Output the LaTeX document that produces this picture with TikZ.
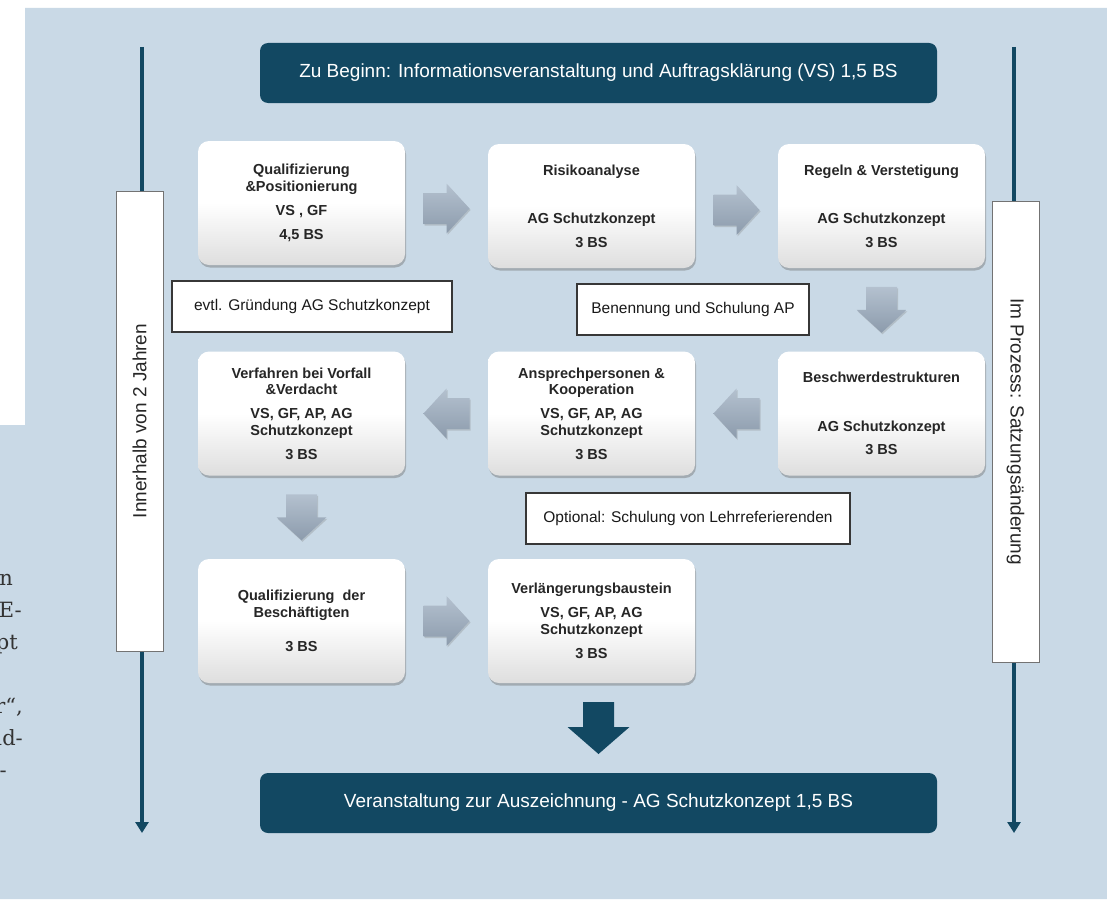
\documentclass[tikz,border=0pt]{standalone}
\usepackage{fontspec}
\setmainfont{Liberation Sans}
\newfontfamily\seitenfont{DejaVu Serif}
\usetikzlibrary{shadows,calc,arrows.meta}

\definecolor{hgblau}{RGB}{201,217,230}
\definecolor{petrol}{RGB}{18,72,98}
\definecolor{pfeilhell}{RGB}{180,193,207}
\definecolor{pfeildunkel}{RGB}{140,155,172}
\definecolor{schrift}{RGB}{38,38,38}
\definecolor{rahmen}{RGB}{55,55,55}

\tikzset{
  modul/.style={rounded corners=11pt, minimum width=207pt, minimum height=124pt,
    inner sep=0pt, align=center, text=schrift,
    top color=white, bottom color=black!13, middle color=white,
    font=\bfseries\fontsize{14.5}{16.5}\selectfont,
    drop shadow={shadow xshift=1pt, shadow yshift=-2.5pt, opacity=.45, fill=black!55}},
  hinweis/.style={draw=rahmen, line width=1.3pt, fill=white, minimum height=51pt,
    inner xsep=0pt, font=\fontsize{15.5}{18}\selectfont, text=black!90},
  balken/.style={rounded corners=8pt, fill=petrol, text=white, minimum width=677pt,
    minimum height=60pt, font=\fontsize{19}{22}\selectfont},
  zeitbox/.style={draw=black!55, line width=.8pt, fill=white, minimum height=47pt,
    font=\fontsize{19}{22}\selectfont, text=black!85},
  zeitachse/.style={draw=petrol, line width=3.2pt, -{Triangle[width=13pt,length=11pt]}},
  pics/blockpfeil/.style={code={
    \path[top color=pfeilhell, bottom color=pfeildunkel,
      drop shadow={shadow xshift=1pt, shadow yshift=-1.5pt, opacity=.3}]
      (-23,-15.5) -- (0,-15.5) -- (0,-25) -- (23,0) -- (0,25) -- (0,15.5) -- (-23,15.5) -- cycle;}},
  pics/grosspfeil/.style={code={
    \fill[petrol] (-26,-15.5) -- (-1,-15.5) -- (-1,-31) -- (26,0) -- (-1,31) -- (-1,15.5) -- (-26,15.5) -- cycle;}}
}

\begin{document}
\begin{tikzpicture}[x=1pt,y=-1pt]
  \useasboundingbox (0,0) rectangle (1107,899);
  % Hintergrund
  \fill[white] (0,0) rectangle (1107,899);
  \fill[hgblau] (25,8) -- (1107,8) -- (1107,899) -- (0,899) -- (0,425) -- (25,425) -- cycle;
  % Textreste der Seite links
  \begin{scope}[font=\seitenfont\fontsize{21}{32}\selectfont, text=black!80]
    \node[anchor=base east, inner sep=0pt] (rest1) at (13,585) {n};
    \node[anchor=base east, inner sep=0pt] (rest2) at (22,617) {E-};
    \node[anchor=base east, inner sep=0pt] (rest3) at (18,649) {pt};
    \node[anchor=base east, inner sep=0pt] (rest4) at (23,713) {r“,};
    \node[anchor=base east, inner sep=0pt] (rest5) at (23,745) {ad-};
    \node[anchor=base east, inner sep=0pt] (rest6) at (7,777) {-};
  \end{scope}

  % Zeitachsen
  \coordinate (links oben) at (142,47);
  \coordinate (links unten) at (142,833);
  \coordinate (rechts oben) at (1014,47);
  \coordinate (rechts unten) at (1014,833);
  \draw[zeitachse] (links oben) -- (links unten);
  \draw[zeitachse] (rechts oben) -- (rechts unten);
  \node[zeitbox, minimum width=460pt, rotate=90] (innerhalb) at (139.5,421) {Innerhalb von 2 Jahren};
  \node[zeitbox, minimum width=461pt, rotate=-90] (prozess) at (1015.5,431.5) {Im Prozess: Satzungsänderung};

  % Anfang und Ende
  \node[balken] (beginn) at (598.5,73) {Zu Beginn: Informationsveranstaltung und Auftragsklärung (VS) 1,5 BS};
  \node[balken] (auszeichnung) at (598.5,803) {Veranstaltung zur Auszeichnung - AG Schutzkonzept 1,5 BS};

  % Bausteine
  \node[modul] (qualpos) at (301.5,203) {Qualifizierung\\\&Positionierung\\[7.5pt]VS , GF\\[7.5pt]4,5 BS};
  \node[modul] (risiko) at (591.5,206) {Risikoanalyse\\[32pt]AG Schutzkonzept\\[7pt]3 BS};
  \node[modul] (regeln) at (881.5,206) {Regeln \& Verstetigung\\[32pt]AG Schutzkonzept\\[7pt]3 BS};
  \node[modul] (beschwerde) at (881.5,413.5) {Beschwerdestrukturen\\[32pt]AG Schutzkonzept\\[7pt]3 BS};
  \node[modul] (ansprech) at (591.5,413.5) {Ansprechpersonen \&\\Kooperation\\[7.5pt]VS, GF, AP, AG\\Schutzkonzept\\[7.5pt]3 BS};
  \node[modul] (verfahren) at (301.5,413.5) {Verfahren bei Vorfall\\\&Verdacht\\[7.5pt]VS, GF, AP, AG\\Schutzkonzept\\[7.5pt]3 BS};
  \node[modul] (qualbesch) at (301.5,621) {Qualifizierung\ \ der\\Beschäftigten\\[17.5pt]3 BS};
  \node[modul] (verlaeng) at (591.5,621) {Verlängerungsbaustein\\[7.5pt]VS, GF, AP, AG\\Schutzkonzept\\[7.5pt]3 BS};

  % Hinweise
  \node[hinweis, minimum width=280pt] (gruendung) at (312,306.5) {evtl. Gründung AG Schutzkonzept};
  \node[hinweis, minimum width=232pt] (benennung) at (693,309.5) {Benennung und Schulung AP};
  \node[hinweis, minimum width=324pt] (optional) at (688,518.5) {Optional: Schulung von Lehrreferierenden};

  % Pfeile
  \pic at ($(qualpos.east)!.5!(risiko.west)+(0,4)$) {blockpfeil};
  \pic at ($(risiko.east)!.5!(regeln.west)+(0,4)$) {blockpfeil};
  \pic[rotate=-90] at ($(regeln.south)!.5!(beschwerde.north)$) {blockpfeil};
  \pic[rotate=180] at ($(beschwerde.west)!.5!(ansprech.east)$) {blockpfeil};
  \pic[rotate=180] at ($(ansprech.west)!.5!(verfahren.east)$) {blockpfeil};
  \pic[rotate=-90] at ($(verfahren.south)!.5!(qualbesch.north)$) {blockpfeil};
  \pic at ($(qualbesch.east)!.5!(verlaeng.west)$) {blockpfeil};
  \pic[rotate=-90] at ($(auszeichnung.north)!.5!(auszeichnung.north |- verlaeng.south)$) {grosspfeil};
\end{tikzpicture}
\end{document}
